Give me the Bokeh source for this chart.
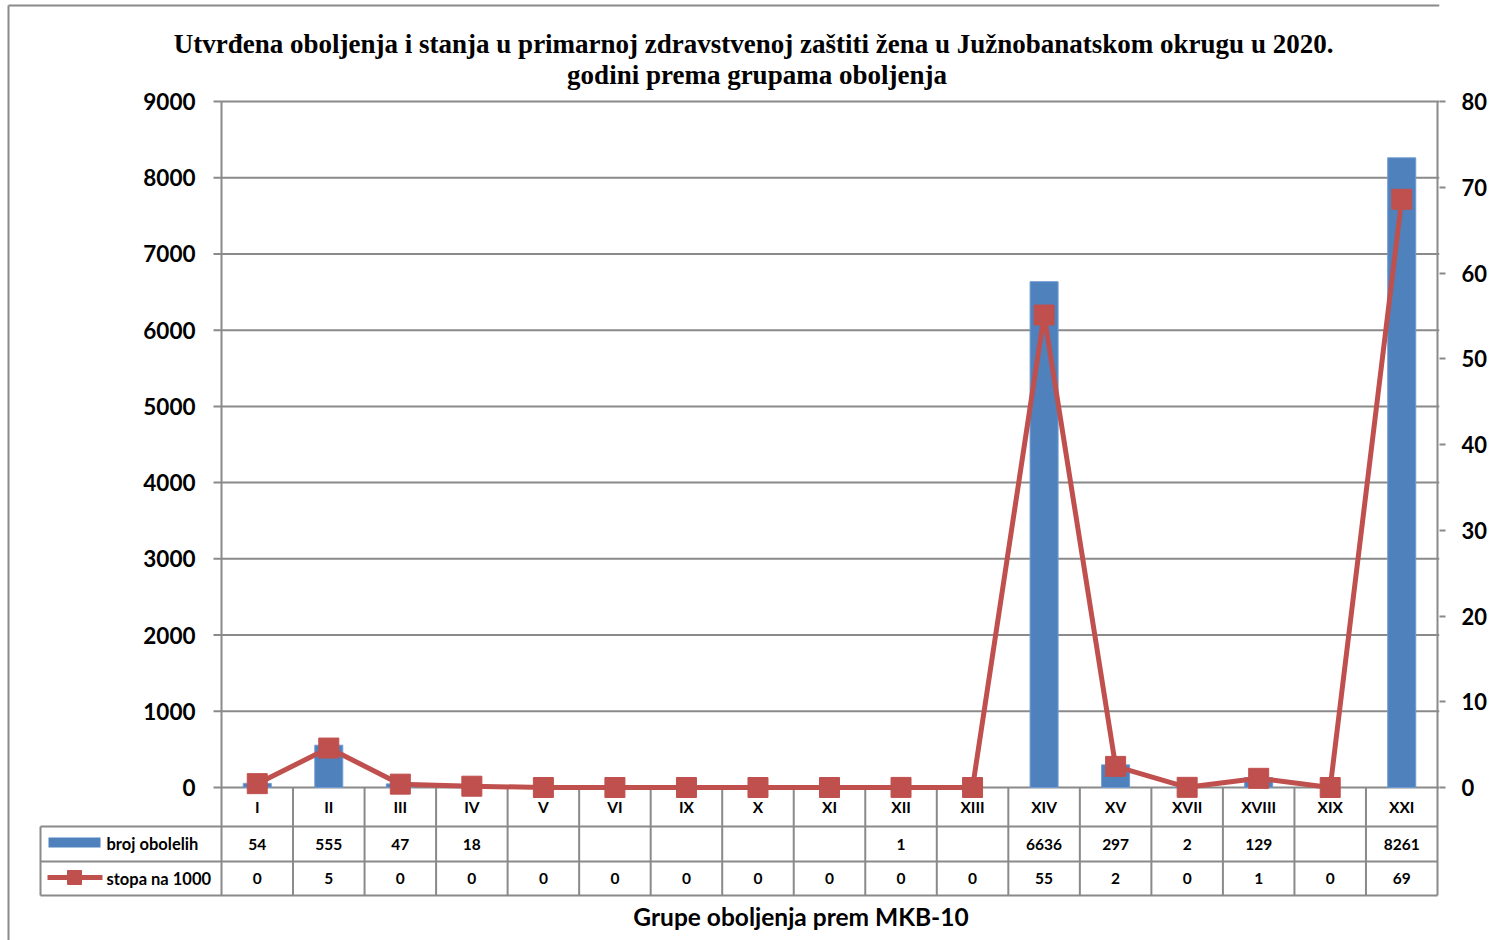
from bokeh.plotting import figure
from bokeh.models import Range1d, LinearAxis, FixedTicker
from bokeh.core.properties import value
from bokeh.embed import file_html
from bokeh.resources import INLINE

# ---------------- data ----------------
categories = ["I", "II", "III", "IV", "V", "VI", "IX", "X", "XI", "XII",
              "XIII", "XIV", "XV", "XVII", "XVIII", "XIX", "XXI"]
broj_obolelih = [54, 555, 47, 18, None, None, None, None, None, 1,
                 None, 6636, 297, 2, 129, None, 8261]
stopa_na_1000 = [0.45, 4.6, 0.39, 0.15, 0, 0, 0, 0, 0, 0.01,
                 0, 55.1, 2.46, 0.02, 1.07, 0, 68.6]
stopa_tabela = [0, 5, 0, 0, 0, 0, 0, 0, 0, 0, 0, 55, 2, 0, 1, 0, 69]
left_ticks = [0, 1000, 2000, 3000, 4000, 5000, 6000, 7000, 8000, 9000]
right_ticks = [0, 10, 20, 30, 40, 50, 60, 70, 80]

title_lines = ["Utvrđena oboljenja i stanja u primarnoj zdravstvenoj zaštiti  žena u Južnobanatskom okrugu u 2020.",
               "godini prema grupama oboljenja"]
x_title = "Grupe oboljenja prem MKB-10"
series_names = ["broj obolelih", "stopa na 1000"]

# ---------------- layout (page pixels) ----------------
PAGE = 0
W, H = 1498, 940
PLOT_L, PLOT_R, PLOT_T, PLOT_B = 221, 1437, 101, 787
FRAME_R = 1439
LEFT_MAX, RIGHT_MAX = 9000, 80
N = len(categories)
PX_PER_CAT = (PLOT_R - PLOT_L) / N


def sx(px):
    return (px - PLOT_L) / PX_PER_CAT


def sy(py):
    return (PLOT_B - py) * LEFT_MAX / (PLOT_B - PLOT_T)


def sr(py):
    return (PLOT_B - py) * RIGHT_MAX / (PLOT_B - PLOT_T)


GRID = "#8a8a8a"
BLUE = "#4F81BD"
RED = "#C0504D"
SANS = value("Lato")
SERIF = value("Liberation Serif")

p = figure(width=W, height=H, output_backend="svg", toolbar_location=None,
           x_axis_type=None, y_axis_type=None,
           x_range=Range1d(sx(PAGE), sx(FRAME_R)),
           y_range=Range1d(sy(PAGE + H), sy(PAGE)),
           min_border_left=0, min_border_top=0, min_border_bottom=0,
           min_border_right=PAGE + W - FRAME_R)
p.extra_y_ranges = {"rate": Range1d(sr(PAGE + H), sr(PAGE))}
p.outline_line_color = None
p.background_fill_color = "white"
p.border_fill_color = "white"

# right axis (real)
ra = LinearAxis(y_range_name="rate", ticker=FixedTicker(ticks=right_ticks))
ra.axis_line_color = None
ra.major_tick_out = 6
ra.major_tick_in = 0
ra.minor_tick_line_color = None
ra.major_tick_line_color = GRID
ra.major_tick_line_width = 2
ra.major_label_text_font = "Lato"
ra.major_label_text_font_style = "bold"
ra.major_label_text_font_size = "22px"
ra.major_label_text_color = "black"
ra.major_label_standoff = 16
p.add_layout(ra, "right")

# outer chart border
p.segment(x0=[sx(8)], y0=[sy(PAGE + H)], x1=[sx(8)], y1=[sy(5)], line_color=GRID, line_width=2)
p.segment(x0=[sx(8)], y0=[sy(5)], x1=[sx(FRAME_R)], y1=[sy(5)], line_color=GRID, line_width=2)

# gridlines (with left tick marks)
p.segment(x0=[sx(213)] * len(left_ticks), y0=left_ticks,
          x1=[sx(FRAME_R)] * len(left_ticks), y1=left_ticks,
          line_color=GRID, line_width=2)

# bars
bx = [i + 0.5 for i, v in enumerate(broj_obolelih) if v]
bt = [v for v in broj_obolelih if v]
p.vbar(x=bx, top=bt, bottom=0, width=28 / PX_PER_CAT,
       fill_color=BLUE, line_color="#6f9bd1", line_width=1)

# table
row_lines = [sy(826), sy(861), sy(895)]
p.segment(x0=[sx(40)] * 3, y0=row_lines, x1=[sx(PLOT_R)] * 3, y1=row_lines,
          line_color=GRID, line_width=2)
vx = list(range(0, N + 1))
p.segment(x0=vx, y0=[sy(895)] * len(vx), x1=vx, y1=[0] * len(vx),
          line_color=GRID, line_width=2)
p.segment(x0=[0, N], y0=[0, 0], x1=[0, N], y1=[LEFT_MAX, LEFT_MAX],
          line_color=GRID, line_width=2)
p.segment(x0=[sx(40)], y0=[sy(895)], x1=[sx(40)], y1=[sy(826)],
          line_color=GRID, line_width=2)

# line series
cx = [i + 0.5 for i in range(N)]
p.line(x=cx, y=stopa_na_1000, y_range_name="rate", line_color=RED, line_width=5)
p.scatter(x=cx, y=stopa_na_1000, y_range_name="rate", marker="square", size=20,
          fill_color=RED, line_color=RED)

# left axis labels
p.text(x=[sx(195)] * len(left_ticks), y=left_ticks, text=[str(t) for t in left_ticks],
       text_align="right", text_baseline="middle", text_font=SANS,
       text_font_style="bold", text_font_size="22.5px", text_color="black")

# category row and value rows
p.text(x=cx, y=[sy(806)] * N, text=categories, text_align="center", text_baseline="middle",
       text_font=SANS, text_font_style="bold", text_font_size="15.5px", text_color="black")
p.text(x=cx, y=[sy(843.5)] * N, text=["" if v is None else str(v) for v in broj_obolelih],
       text_align="center", text_baseline="middle",
       text_font=SANS, text_font_style="bold", text_font_size="15.5px", text_color="black")
p.text(x=cx, y=[sy(878)] * N, text=[str(v) for v in stopa_tabela],
       text_align="center", text_baseline="middle",
       text_font=SANS, text_font_style="bold", text_font_size="15.5px", text_color="black")

# legend cells
p.quad(left=[sx(48)], right=[sx(100)], top=[sy(837)], bottom=[sy(847)],
       fill_color=BLUE, line_color=None)
p.segment(x0=[sx(47)], y0=[sy(877)], x1=[sx(102)], y1=[sy(877)], line_color=RED, line_width=5)
p.scatter(x=[sx(74)], y=[sy(877)], marker="square", size=14, fill_color=RED, line_color=RED)
p.text(x=[sx(106), sx(106)], y=[sy(843), sy(878)], text=series_names,
       text_align="left", text_baseline="middle",
       text_font=SANS, text_font_style="bold", text_font_size="16.5px", text_color="black")

# titles
p.text(x=[sx(756.5), sx(756.5)], y=[sy(43), sy(74)], text=title_lines,
       text_align="center", text_baseline="middle", text_font=SERIF,
       text_font_style="bold", text_font_size="27px", text_color="black")
p.text(x=[sx(800.5)], y=[sy(916)], text=[x_title], text_align="center", text_baseline="middle",
       text_font=SANS, text_font_style="bold", text_font_size="24.5px", text_color="black")

open("out.html", "w").write(file_html(p, INLINE))
